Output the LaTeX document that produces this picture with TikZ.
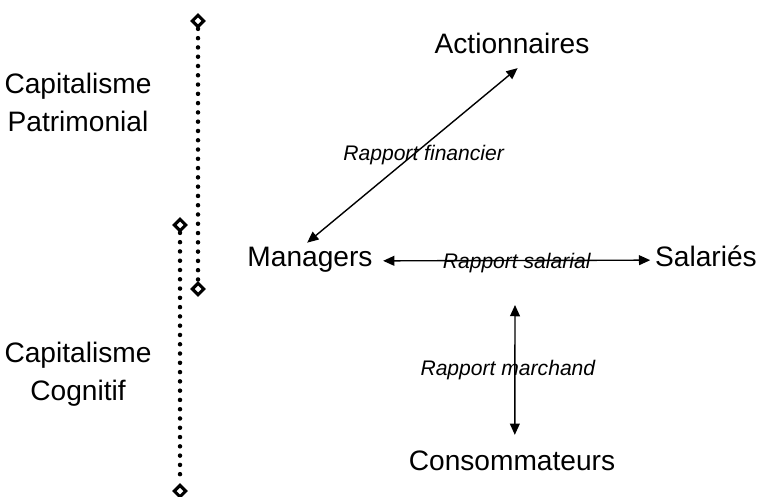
\documentclass[tikz,border=0pt]{standalone}
\usepackage{fontspec}
\setmainfont{Liberation Sans}
\usetikzlibrary{shapes.geometric,arrows.meta}

\begin{document}
\begin{tikzpicture}[x=0.025cm, y=-0.025cm,
    actor/.style={font=\fontsize{20}{27}\selectfont, align=center},
    rapport/.style={font=\fontsize{15}{18}\selectfont\itshape},
    link/.style={{Triangle[length=8pt,width=7pt]}-{Triangle[length=8pt,width=7pt]}, line width=1pt},
    period/.style={line width=3.2pt, line cap=round, dash pattern=on 0pt off 6.6pt},
    bound/.style={diamond, draw, fill=white, line width=2.2pt, inner sep=0pt, minimum size=9pt}]
    \useasboundingbox (0,0) rectangle (760,497);

    % Periods
    \node[actor] (patri) at (78,102) {Capitalisme\\Patrimonial};
    \node[actor] (cogni) at (78,374) {Capitalisme\\Cognitif};

    \node[bound] (p1) at (198,21) {};
    \node[bound] (p2) at (198,289) {};
    \node[bound] (c1) at (180,225) {};
    \node[bound] (c2) at (180,491) {};
    \draw[period] (p1) -- (p2);
    \draw[period] (c1) -- (c2);

    % Actors
    \node[actor] (act) at (512,43) {Actionnaires};
    \node[actor, anchor=base, text depth=5pt] (man) at (310,267) {Managers};
    \node[actor, anchor=base, text depth=5pt] (sal) at (706,267) {Salariés};
    \node[actor] (con) at (512,461) {Consommateurs};
    \coordinate (mid) at (515,305);

    % Relations
    \draw[link] ([xshift=-2]man.north) -- ([xshift=4,yshift=-7]act.south)
        node[rapport, midway, xshift=8] {Rapport financier};
    \draw[link] ([xshift=4]man.east) -- (sal.west)
        node[rapport, midway, yshift=-2] {Rapport salarial};
    \draw[link] (mid) -- ([xshift=2,yshift=8]con.north)
        node[rapport, midway, xshift=-5] {Rapport marchand};
\end{tikzpicture}
\end{document}
